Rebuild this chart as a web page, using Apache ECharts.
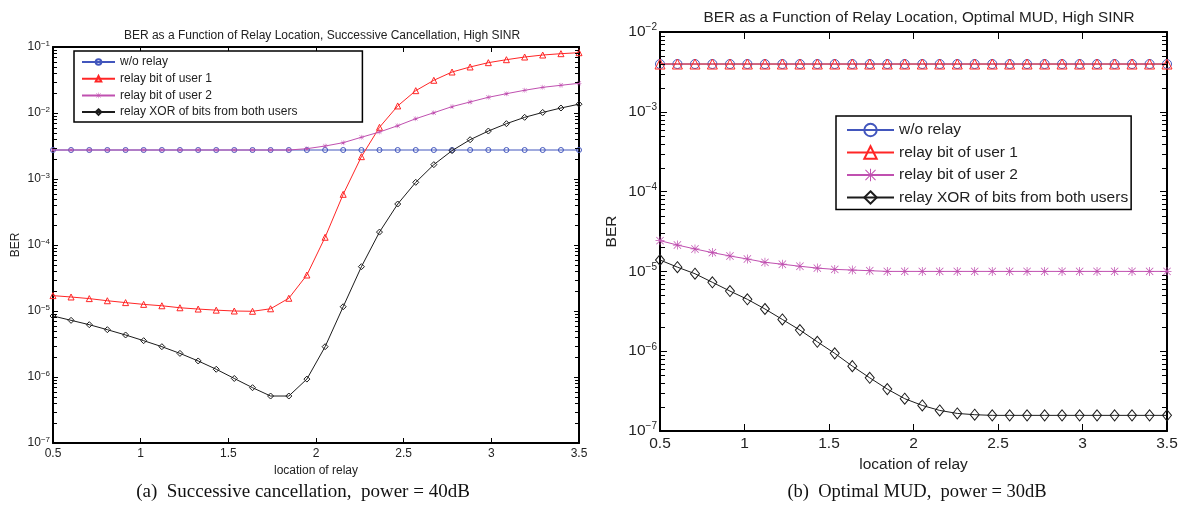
<!DOCTYPE html>
<html>
<head>
<meta charset="utf-8">
<script src="https://cdn.jsdelivr.net/npm/echarts@6/dist/echarts.min.js"></script>
<style>
  html, body { margin: 0; background: #fff; }
  #chart { width: 1185px; height: 506px; }
</style>
</head>
<body>
<div id="chart"></div>
<script>
// relay positions (30 points from 0.5 to 3.5)
const relayLocation = [0.5, 0.603, 0.707, 0.810, 0.914, 1.017, 1.121, 1.224, 1.328, 1.431,
  1.534, 1.638, 1.741, 1.845, 1.948, 2.052, 2.155, 2.259, 2.362, 2.466,
  2.569, 2.672, 2.776, 2.879, 2.983, 3.086, 3.190, 3.293, 3.397, 3.5];
const xTicks = [0.5, 1, 1.5, 2, 2.5, 3, 3.5];
const seriesNames = ["w/o relay", "relay bit of user 1", "relay bit of user 2", "relay XOR of bits from both users"];

// (a) successive cancellation, 40dB
const scNoRelay = [2.75e-3, 2.75e-3, 2.75e-3, 2.75e-3, 2.75e-3, 2.75e-3, 2.75e-3, 2.75e-3, 2.75e-3, 2.75e-3,
  2.75e-3, 2.75e-3, 2.75e-3, 2.75e-3, 2.75e-3, 2.75e-3, 2.75e-3, 2.75e-3, 2.75e-3, 2.75e-3,
  2.75e-3, 2.75e-3, 2.75e-3, 2.75e-3, 2.75e-3, 2.75e-3, 2.75e-3, 2.75e-3, 2.75e-3, 2.75e-3];
const scUser1 = [1.71e-5, 1.63e-5, 1.54e-5, 1.43e-5, 1.34e-5, 1.26e-5, 1.2e-5, 1.12e-5, 1.07e-5, 1.03e-5,
  1.0e-5, 9.9e-6, 1.08e-5, 1.56e-5, 3.51e-5, 1.31e-4, 5.86e-4, 2.18e-3, 6.07e-3, 1.28e-2,
  2.18e-2, 3.13e-2, 4.18e-2, 4.98e-2, 5.79e-2, 6.42e-2, 7.05e-2, 7.56e-2, 7.92e-2, 8.2e-2];
const scUser2 = [2.75e-3, 2.75e-3, 2.75e-3, 2.75e-3, 2.75e-3, 2.75e-3, 2.75e-3, 2.75e-3, 2.75e-3, 2.75e-3,
  2.75e-3, 2.75e-3, 2.75e-3, 2.75e-3, 2.88e-3, 3.16e-3, 3.55e-3, 4.29e-3, 5.15e-3, 6.42e-3,
  8.2e-3, 1.01e-2, 1.25e-2, 1.47e-2, 1.73e-2, 1.96e-2, 2.21e-2, 2.45e-2, 2.63e-2, 2.82e-2];
const scXor = [8.4e-6, 7.22e-6, 6.2e-6, 5.21e-6, 4.33e-6, 3.55e-6, 2.88e-6, 2.28e-6, 1.75e-6, 1.31e-6,
  9.5e-7, 6.89e-7, 5.15e-7, 5.15e-7, 9.3e-7, 2.88e-6, 1.16e-5, 4.69e-5, 1.57e-4, 4.18e-4,
  8.9e-4, 1.65e-3, 2.69e-3, 3.94e-3, 5.33e-3, 6.89e-3, 8.6e-3, 1.02e-2, 1.19e-2, 1.36e-2];

// (b) optimal MUD, 30dB
const mudNoRelay = [3.97e-3, 3.97e-3, 3.97e-3, 3.97e-3, 3.97e-3, 3.97e-3, 3.97e-3, 3.97e-3, 3.97e-3, 3.97e-3,
  3.97e-3, 3.97e-3, 3.97e-3, 3.97e-3, 3.97e-3, 3.97e-3, 3.97e-3, 3.97e-3, 3.97e-3, 3.97e-3,
  3.97e-3, 3.97e-3, 3.97e-3, 3.97e-3, 3.97e-3, 3.97e-3, 3.97e-3, 3.97e-3, 3.97e-3, 3.97e-3];
const mudUser1 = [3.97e-3, 3.97e-3, 3.97e-3, 3.97e-3, 3.97e-3, 3.97e-3, 3.97e-3, 3.97e-3, 3.97e-3, 3.97e-3,
  3.97e-3, 3.97e-3, 3.97e-3, 3.97e-3, 3.97e-3, 3.97e-3, 3.97e-3, 3.97e-3, 3.97e-3, 3.97e-3,
  3.97e-3, 3.97e-3, 3.97e-3, 3.97e-3, 3.97e-3, 3.97e-3, 3.97e-3, 3.97e-3, 3.97e-3, 3.97e-3];
const mudUser2 = [2.43e-5, 2.14e-5, 1.91e-5, 1.72e-5, 1.56e-5, 1.43e-5, 1.3e-5, 1.23e-5, 1.16e-5, 1.1e-5,
  1.06e-5, 1.04e-5, 1.02e-5, 1.0e-5, 1.0e-5, 1.0e-5, 1.0e-5, 1.0e-5, 1.0e-5, 1.0e-5,
  1.0e-5, 1.0e-5, 1.0e-5, 1.0e-5, 1.0e-5, 1.0e-5, 1.0e-5, 1.0e-5, 1.0e-5, 1.0e-5];
const mudXor = [1.39e-5, 1.13e-5, 9.35e-6, 7.3e-6, 5.67e-6, 4.47e-6, 3.38e-6, 2.5e-6, 1.84e-6, 1.31e-6,
  9.4e-7, 6.5e-7, 4.64e-7, 3.35e-7, 2.54e-7, 2.09e-7, 1.81e-7, 1.66e-7, 1.6e-7, 1.57e-7,
  1.57e-7, 1.57e-7, 1.57e-7, 1.57e-7, 1.57e-7, 1.57e-7, 1.57e-7, 1.57e-7, 1.57e-7, 1.57e-7];

// log-axis minor tick multipliers
const minorSteps = [2, 3, 4, 5, 6, 7, 8, 9];
const scDecades = [1e-7, 1e-6, 1e-5, 1e-4, 1e-3, 1e-2];
const mudDecades = [1e-7, 1e-6, 1e-5, 1e-4, 1e-3];

const BLUE = "#4256bd", RED = "#ff2626", MAGENTA = "#c050b0", BLACK = "#1c1c1c";
const FONT = "'Liberation Sans', Arial, sans-serif";
const SERIF = "'Liberation Serif', 'Times New Roman', serif";
const ASTERISK = "path://M9.2 0H10.8V20H9.2Z M0 9.2H20V10.8H0Z M2.4 1.3L18.7 17.6L17.6 18.7L1.3 2.4Z M17.6 1.3L18.7 2.4L2.4 18.7L1.3 17.6Z";

const pairs = ys => relayLocation.map((x, i) => [x, ys[i]]);

const chart = echarts.init(document.getElementById("chart"));

function axesFor(gridIndex, yMin, yMax, fs, sup, tickLen) {
  const frame = { show: true, lineStyle: { color: "#000", width: 2 } };
  const tick = { show: true, inside: true, length: tickLen, lineStyle: { color: "#000", width: 1 } };
  const supLabel = v => "{b|10}{s|−" + Math.abs(Math.round(Math.log10(v))) + "}";
  return {
    x: [
      {
        gridIndex, type: "value", min: 0.5, max: 3.5, interval: 0.5, position: "bottom",
        axisLine: frame, splitLine: { show: false }, axisTick: tick,
        axisLabel: { color: "#222", fontSize: fs, fontFamily: FONT, margin: 5,
          formatter: v => xTicks.includes(v) ? String(v) : "" },
        name: "location of relay", nameLocation: "middle", nameGap: fs + 5,
        nameTextStyle: { color: "#222", fontSize: fs, fontFamily: FONT }
      },
      {
        gridIndex, type: "value", min: 0.5, max: 3.5, interval: 0.5, position: "top",
        axisLine: frame, splitLine: { show: false }, axisLabel: { show: false }, axisTick: tick
      }
    ],
    y: [
      {
        gridIndex, type: "log", logBase: 10, min: yMin, max: yMax, interval: 1, position: "left",
        axisLine: frame, splitLine: { show: false }, axisTick: tick,
        axisLabel: {
          margin: 3, formatter: supLabel,
          rich: {
            b: { fontSize: fs, fontFamily: FONT, color: "#222" },
            s: { fontSize: sup, fontFamily: FONT, color: "#222", verticalAlign: "bottom", padding: [0, 0, fs * 0.55, 0] }
          }
        },
        name: "BER", nameLocation: "middle", nameGap: fs * 2.6,
        nameTextStyle: { color: "#222", fontSize: fs, fontFamily: FONT }
      },
      {
        gridIndex, type: "log", logBase: 10, min: yMin, max: yMax, interval: 1, position: "right",
        axisLine: frame, splitLine: { show: false }, axisLabel: { show: false }, axisTick: tick
      }
    ]
  };
}

const axA = axesFor(0, 1e-7, 1e-1, 12, 8, 5);
const axB = axesFor(1, 1e-7, 1e-2, 15.5, 10, 7);

function lineSeries(name, data, xi, yi, color, symbol, size, filled, z) {
  return {
    name, type: "line", data, xAxisIndex: xi, yAxisIndex: yi, z,
    symbol, symbolSize: size, showAllSymbol: true,
    lineStyle: { color, width: 1 },
    itemStyle: filled
      ? { color, borderWidth: 0 }
      : { color: "rgba(0,0,0,0)", borderColor: color, borderWidth: 1 },
    emphasis: { disabled: true },
    animation: false
  };
}

const option = {
  backgroundColor: "#fff",
  animation: false,
  title: [
    { text: "BER as a Function of Relay Location, Successive Cancellation, High SINR", left: 317, top: 25, textAlign: "center",
      textStyle: { fontSize: 12, fontWeight: "normal", color: "#222", fontFamily: FONT } },
    { text: "BER as a Function of Relay Location, Optimal MUD, High SINR", left: 914, top: 5, textAlign: "center",
      textStyle: { fontSize: 15.3, fontWeight: "normal", color: "#222", fontFamily: FONT } },
    { text: "(a)  Successive cancellation,  power = 40dB", left: 298, top: 478, textAlign: "center",
      textStyle: { fontSize: 19, fontWeight: "normal", color: "#111", fontFamily: SERIF } },
    { text: "(b)  Optimal MUD,  power = 30dB", left: 912, top: 478, textAlign: "center",
      textStyle: { fontSize: 18.5, fontWeight: "normal", color: "#111", fontFamily: SERIF } }
  ],
  grid: [
    { left: 53, top: 47, width: 526, height: 396 },
    { left: 660, top: 32, width: 507, height: 399 }
  ],
  legend: [
    {
      data: seriesNames, left: 74, top: 51, orient: "vertical",
      backgroundColor: "#fff", borderColor: "#000", borderWidth: 1.5, borderRadius: 0,
      padding: [5, 65, 4, 7], itemWidth: 33, itemHeight: 7, itemGap: 4.7,
      textStyle: { fontSize: 12, color: "#222", fontFamily: FONT },
      selectedMode: false
    },
    {
      data: seriesNames, left: 836, top: 116, orient: "vertical",
      backgroundColor: "#fff", borderColor: "#000", borderWidth: 1.5, borderRadius: 0,
      padding: [6, 3, 4, 10], itemWidth: 47, itemHeight: 15.5, itemGap: 6.5,
      textStyle: { fontSize: 15.5, color: "#222", fontFamily: FONT },
      selectedMode: false
    }
  ],
  xAxis: [...axA.x, ...axB.x],
  yAxis: [...axA.y, ...axB.y],
  series: [
    lineSeries(seriesNames[0], pairs(scNoRelay), 0, 0, BLUE, "circle", 5, false, 2),
    lineSeries(seriesNames[1], pairs(scUser1), 0, 0, RED, "triangle", 6, false, 3),
    lineSeries(seriesNames[2], pairs(scUser2), 0, 0, MAGENTA, ASTERISK, 5, true, 4),
    lineSeries(seriesNames[3], pairs(scXor), 0, 0, BLACK, "diamond", 6, false, 5),
    lineSeries(seriesNames[0], pairs(mudNoRelay), 2, 2, BLUE, "circle", 9, false, 2),
    lineSeries(seriesNames[1], pairs(mudUser1), 2, 2, RED, "triangle", 10, false, 3),
    lineSeries(seriesNames[2], pairs(mudUser2), 2, 2, MAGENTA, ASTERISK, 9, true, 4),
    lineSeries(seriesNames[3], pairs(mudXor), 2, 2, BLACK, "diamond", [9, 11], false, 5)
  ]
};

chart.setOption(option);

// minor ticks of the log axes, placed through each grid's own scales
function minorTickLines(gridIndex, decades, len) {
  const out = [];
  decades.forEach(d => minorSteps.forEach(m => {
    const v = d * m;
    const a = chart.convertToPixel({ gridIndex }, [0.5, v]);
    const b = chart.convertToPixel({ gridIndex }, [3.5, v]);
    if (!a || !b || !isFinite(a[1])) return;
    const y = Math.round(a[1]) + 0.5;
    out.push({ type: "line", silent: true, z: 100, shape: { x1: a[0], y1: y, x2: a[0] + len, y2: y },
      style: { stroke: "#000", lineWidth: 1 } });
    out.push({ type: "line", silent: true, z: 100, shape: { x1: b[0], y1: y, x2: b[0] - len, y2: y },
      style: { stroke: "#000", lineWidth: 1 } });
  }));
  return out;
}

chart.setOption({
  graphic: { elements: [...minorTickLines(0, scDecades, 4), ...minorTickLines(1, mudDecades, 5)] }
});
</script>
</body>
</html>
